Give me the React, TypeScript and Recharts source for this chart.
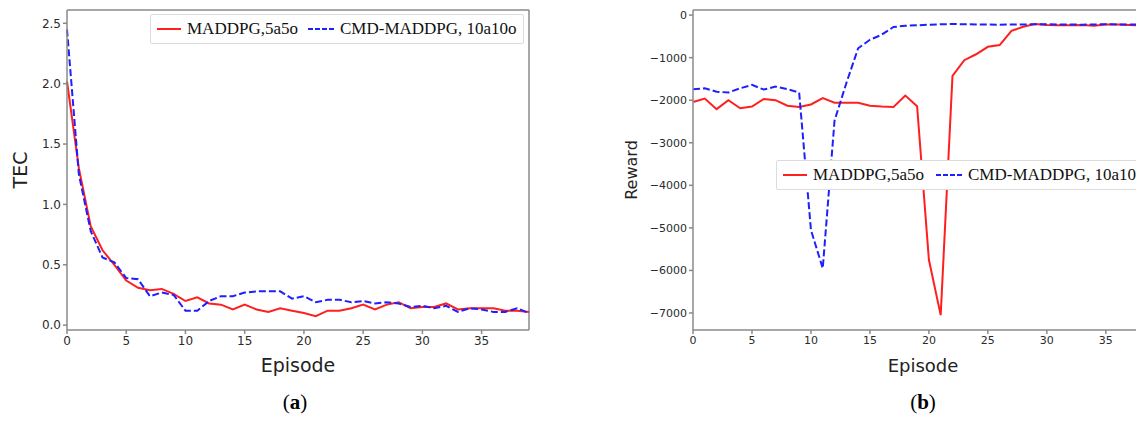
import React from "react";
import { LineChart, Line, XAxis, YAxis, ReferenceLine } from "recharts";

const episodes = Array.from({ length: 40 }, (_, i) => i);
const xTicks = [0, 5, 10, 15, 20, 25, 30, 35];

const tecMaddpg = [
  2.02, 1.3, 0.82, 0.62, 0.5, 0.37, 0.31, 0.29, 0.3, 0.26,
  0.2, 0.23, 0.18, 0.17, 0.13, 0.17, 0.13, 0.11, 0.14, 0.12,
  0.1, 0.075, 0.12, 0.12, 0.14, 0.17, 0.13, 0.17, 0.19, 0.14,
  0.15, 0.15, 0.18, 0.13, 0.14, 0.14, 0.14, 0.12, 0.12, 0.11,
];
const tecCmd = [
  2.45, 1.25, 0.78, 0.56, 0.52, 0.39, 0.38, 0.24, 0.27, 0.25,
  0.12, 0.12, 0.2, 0.24, 0.24, 0.27, 0.28, 0.28, 0.28, 0.22,
  0.24, 0.19, 0.21, 0.21, 0.19, 0.2, 0.18, 0.19, 0.18, 0.15,
  0.16, 0.14, 0.16, 0.11, 0.14, 0.13, 0.11, 0.11, 0.14, 0.1,
];
const tecTicks = [0, 0.5, 1, 1.5, 2, 2.5];
const tecDomain = [-0.04, 2.61];

const rewardMaddpg = [
  -2040, -1960, -2210, -2000, -2190, -2150, -1970, -2000, -2130, -2160,
  -2100, -1950, -2060, -2060, -2060, -2130, -2150, -2160, -1890, -2140,
  -5750, -7050, -1430, -1060, -920, -745, -705, -370, -275, -210,
  -230, -240, -240, -230, -250, -220, -220, -230, -240, -230,
];
const rewardCmd = [
  -1740, -1720, -1800, -1820, -1720, -1640, -1750, -1680, -1740, -1820,
  -5050, -5950, -2480, -1600, -780, -580, -460, -280, -250, -240,
  -225, -215, -210, -215, -220, -220, -225, -220, -220, -215,
  -215, -220, -220, -225, -220, -215, -220, -220, -225, -220,
];
const rewardTicks = [0, -1000, -2000, -3000, -4000, -5000, -6000, -7000];
const rewardDomain = [-7400, 120];

const tecData = episodes.map((e, i) => ({ episode: e, maddpg: tecMaddpg[i], cmd: tecCmd[i] }));
const rewardData = episodes.map((e, i) => ({ episode: e, maddpg: rewardMaddpg[i], cmd: rewardCmd[i] }));

const RED = "#ff1f1f";
const BLUE = "#1f1fff";
const AXIS = "#8a8a8a";
const tickStyle = { fontSize: 12, fill: "#2b2b2b", fontFamily: "DejaVu Sans" };
const labelStyle = { fontSize: 19, fill: "#222", fontFamily: "DejaVu Sans" };

const LegendBox = ({ gap, left, top }: { gap: number; left: number; top: number }) => (
  <div
    style={{
      position: "absolute",
      left,
      top,
      display: "flex",
      alignItems: "center",
      background: "white",
      border: "1px solid #dcdcdc",
      borderRadius: 2,
      padding: "4px 6px",
      fontFamily: "'Liberation Serif', 'Times New Roman', serif",
      fontSize: 17,
      color: "#111",
      whiteSpace: "nowrap",
    }}
  >
    <svg width={24} height={10} style={{ marginRight: 6 }}>
      <line x1={0} y1={5} x2={24} y2={5} stroke={RED} strokeWidth={2} />
    </svg>
    <span>MADDPG,5a5o</span>
    <svg width={26} height={10} style={{ marginLeft: gap, marginRight: 6 }}>
      <line x1={0} y1={5} x2={26} y2={5} stroke={BLUE} strokeWidth={2} strokeDasharray="5 2" />
    </svg>
    <span>CMD-MADDPG, 10a10o</span>
  </div>
);

const fmtTec = (v: number) => v.toFixed(1);
const fmtReward = (v: number) => (v < 0 ? "\u2212" + Math.abs(v) : String(v));

export default function App() {
  return (
    <div
      style={{
        position: "relative",
        width: 1144,
        height: 425,
        margin: -8,
        overflow: "hidden",
        background: "white",
      }}
    >
      <div style={{ position: "absolute", left: 0, top: 0 }}>
        <LineChart width={540} height={380} data={tecData} margin={{ top: 10, right: 11, left: 0, bottom: 0 }}>
          <XAxis
            dataKey="episode"
            type="number"
            domain={[0, 39]}
            ticks={xTicks}
            height={50}
            stroke={AXIS}
            strokeWidth={1.5}
            tickSize={4}
            tick={tickStyle}
            label={{ value: "Episode", position: "insideBottom", offset: 8, style: labelStyle }}
          />
          <YAxis
            type="number"
            domain={tecDomain}
            ticks={tecTicks}
            allowDataOverflow
            width={67}
            stroke={AXIS}
            strokeWidth={1.5}
            tickSize={4}
            tick={tickStyle}
            tickFormatter={fmtTec}
            label={{ value: "TEC", angle: -90, position: "insideLeft", offset: 20, style: { ...labelStyle, textAnchor: "middle" } }}
          />
          <ReferenceLine y={tecDomain[1]} stroke={AXIS} strokeWidth={1.5} />
          <ReferenceLine x={39} stroke={AXIS} strokeWidth={1.5} />
          <Line dataKey="maddpg" stroke={RED} strokeWidth={2} dot={false} isAnimationActive={false} />
          <Line dataKey="cmd" stroke={BLUE} strokeWidth={2} strokeDasharray="7 3" dot={false} isAnimationActive={false} />
        </LineChart>
        <LegendBox gap={10} left={150} top={14} />
      </div>

      <div style={{ position: "absolute", left: 600, top: 0 }}>
        <LineChart width={560} height={380} data={rewardData} margin={{ top: 10, right: 7, left: 0, bottom: 0 }}>
          <XAxis
            dataKey="episode"
            type="number"
            domain={[0, 39]}
            ticks={xTicks}
            height={50}
            stroke={AXIS}
            strokeWidth={1.5}
            tickSize={4}
            tick={{ ...tickStyle, fontSize: 11 }}
            label={{ value: "Episode", position: "insideBottom", offset: 8, style: { ...labelStyle, fontSize: 18 } }}
          />
          <YAxis
            type="number"
            domain={rewardDomain}
            ticks={rewardTicks}
            allowDataOverflow
            width={93}
            stroke={AXIS}
            strokeWidth={1.5}
            tickSize={4}
            tick={{ ...tickStyle, fontSize: 11 }}
            tickFormatter={fmtReward}
            label={{ value: "Reward", angle: -90, position: "insideLeft", offset: 31, style: { ...labelStyle, fontSize: 16, textAnchor: "middle" } }}
          />
          <ReferenceLine y={rewardDomain[1]} stroke={AXIS} strokeWidth={1.5} />
          <Line dataKey="maddpg" stroke={RED} strokeWidth={2} dot={false} isAnimationActive={false} />
          <Line dataKey="cmd" stroke={BLUE} strokeWidth={2} strokeDasharray="7 3" dot={false} isAnimationActive={false} />
        </LineChart>
        <LegendBox gap={12} left={176} top={160} />
      </div>

      <div style={{ position: "absolute", left: 275, top: 390, width: 40, textAlign: "center", fontFamily: "'Liberation Serif', serif", fontSize: 21 }}>
        (<b>a</b>)
      </div>
      <div style={{ position: "absolute", left: 903, top: 390, width: 40, textAlign: "center", fontFamily: "'Liberation Serif', serif", fontSize: 21 }}>
        (<b>b</b>)
      </div>
    </div>
  );
}
